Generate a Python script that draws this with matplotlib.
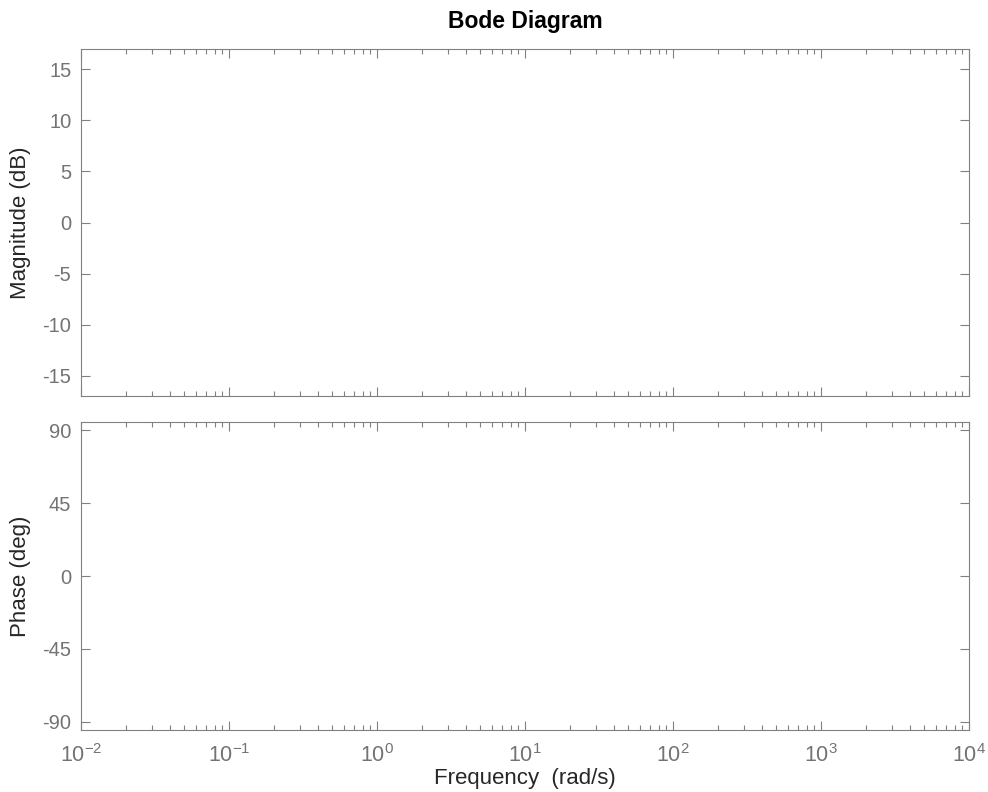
import numpy as np
import matplotlib
matplotlib.use("Agg")
import matplotlib.pyplot as plt
from matplotlib.ticker import FixedLocator, NullFormatter, FuncFormatter

plt.rcParams['font.family'] = ['Liberation Sans', 'DejaVu Sans']
plt.rcParams['mathtext.fontset'] = 'custom'
plt.rcParams['mathtext.rm'] = 'Liberation Sans'
plt.rcParams['mathtext.it'] = 'Liberation Sans:italic'
plt.rcParams['axes.unicode_minus'] = False

# axis ranges / ticks (empty Bode plot)
freq_lim = [1e-2, 1e4]
decades = [-2, -1, 0, 1, 2, 3, 4]
mag_lim = [-17, 17]
mag_ticks = [-15, -10, -5, 0, 5, 10, 15]
phase_lim = [-95, 95]
phase_ticks = [-90, -45, 0, 45, 90]

gray = '#808080'
txt = '#737373'
lab = '#262626'

major = [10.0**d for d in decades]
minor = [m * 10.0**d for d in decades[:-1] for m in range(2, 10)]

fig = plt.figure(figsize=(9.88, 7.92), dpi=100)
ax1 = fig.add_axes([81/988, 1-396/792, 888/988, 347/792])
ax2 = fig.add_axes([81/988, 1-730/792, 888/988, 308/792])

def decade(x, pos):
    return r'$\mathregular{10^{%d}}$' % int(round(np.log10(x)))

for ax, lim, ticks in [(ax1, mag_lim, mag_ticks), (ax2, phase_lim, phase_ticks)]:
    ax.set_xscale('log')
    ax.set_xlim(freq_lim)
    ax.set_ylim(lim)
    ax.set_yticks(ticks)
    ax.xaxis.set_major_locator(FixedLocator(major))
    ax.xaxis.set_major_formatter(FuncFormatter(decade))
    ax.xaxis.set_minor_locator(FixedLocator(minor))
    ax.xaxis.set_minor_formatter(NullFormatter())
    for s in ax.spines.values():
        s.set_color(gray)
        s.set_linewidth(0.8)
    ax.tick_params(which='both', direction='in', top=True, right=True,
                   color=gray, labelcolor=txt, width=0.8)
    ax.tick_params(which='major', length=6.5)
    ax.tick_params(which='minor', length=3.6)
    ax.tick_params(axis='y', labelsize=14.5, pad=7)

ax1.tick_params(axis='x', labelbottom=False)
ax2.tick_params(axis='x', pad=10, labelsize=15.5)

ax1.set_title('Bode Diagram', fontsize=16.5, fontweight='bold', color='black', pad=15)
ax1.set_ylabel('Magnitude (dB)', fontsize=16, color=lab)
ax2.set_ylabel('Phase (deg)', fontsize=16, color=lab)
ax2.set_xlabel('Frequency  (rad/s)', fontsize=16, color=lab, labelpad=1)
ax1.yaxis.set_label_coords(-0.056, 0.5)
ax2.yaxis.set_label_coords(-0.056, 0.5)

fig.savefig('out.png', dpi=100)
